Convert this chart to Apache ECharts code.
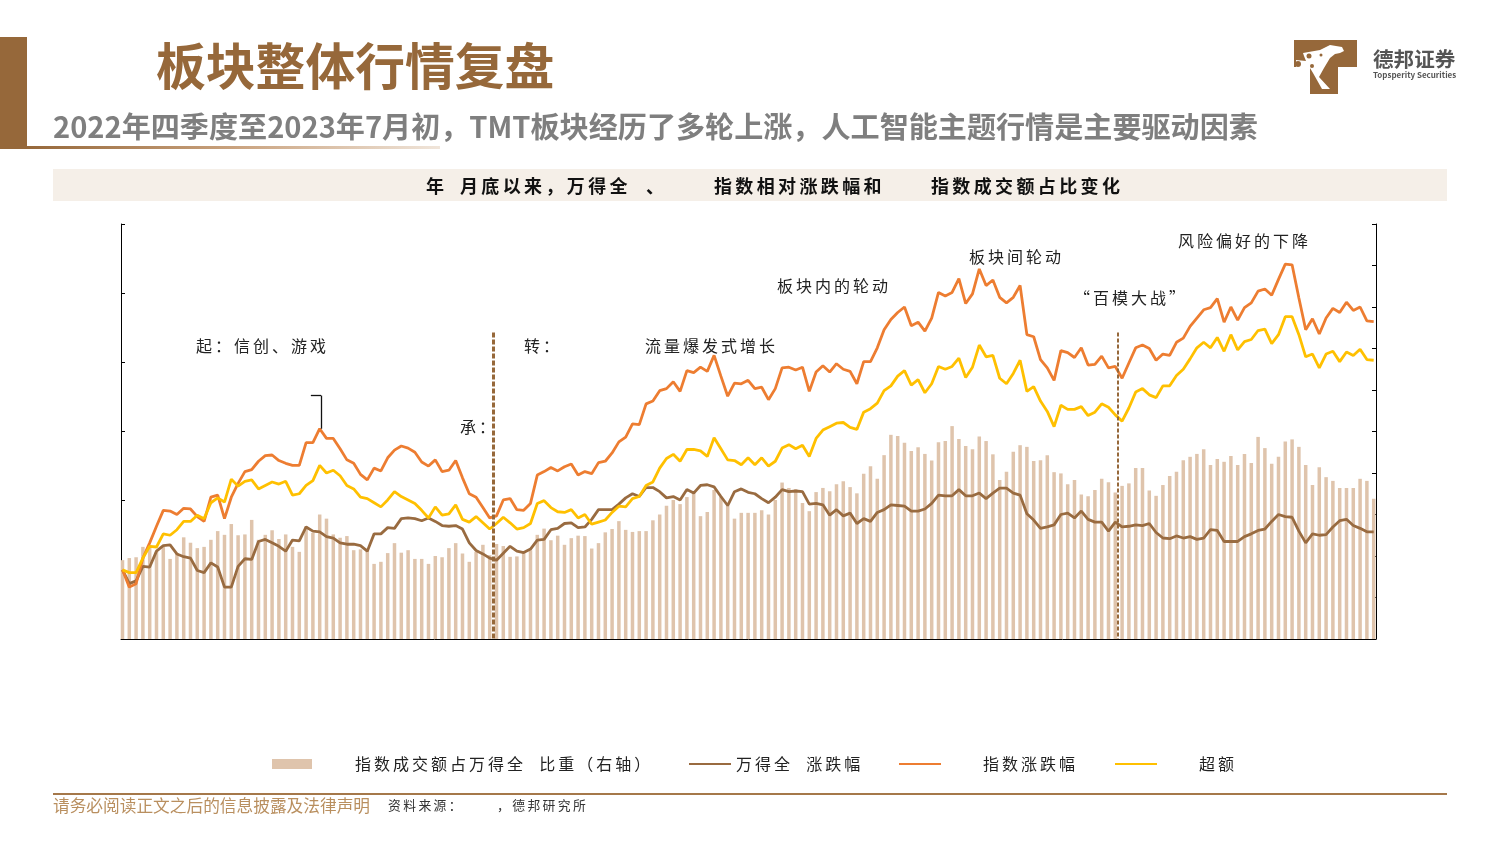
<!DOCTYPE html>
<html><head><meta charset="utf-8">
<style>html,body{margin:0;padding:0;background:#fff}#c{width:1500px;height:844px}</style>
<script src="https://cdn.jsdelivr.net/npm/echarts@6/dist/echarts.min.js"></script>
</head><body><div id="c"></div>
<script>
// Share of turnover, right axis (%)
const turnoverShare = [19.0,19.5,19.7,22.2,22.7,21.0,22.2,19.3,20.7,24.5,23.2,21.9,22.2,23.9,26.0,25.1,27.7,25.0,25.2,28.7,23.9,25.1,26.2,24.1,25.2,22.2,21.0,27.1,25.6,30.0,29.0,25.2,24.4,24.8,21.4,21.6,21.4,18.1,18.6,20.7,23.1,20.8,21.4,19.3,19.3,18.1,20.0,19.7,21.9,23.1,20.6,18.6,21.0,22.7,20.2,22.9,22.4,19.8,19.9,20.7,21.4,25.1,26.6,23.8,24.9,22.7,24.3,24.9,24.8,21.8,23.1,25.7,26.5,28.4,26.3,25.8,26.0,26.0,28.6,30.0,32.1,33.5,32.5,34.2,35.3,29.6,30.6,35.9,34.3,32.1,29.0,30.4,30.4,30.4,31.0,30.0,33.5,37.7,36.4,36.1,32.8,30.8,35.4,36.4,35.6,37.3,38.0,36.6,35.1,39.8,41.6,38.6,44.3,49.2,48.9,47.3,45.3,46.2,44.6,43.0,47.4,47.7,51.3,48.2,46.5,45.7,48.8,47.7,44.5,38.3,40.3,45.1,46.7,46.3,42.9,43.1,44.3,40.2,39.9,37.3,38.3,34.8,34.4,35.9,38.6,37.8,35.3,36.9,37.5,41.2,41.2,35.8,34.5,37.1,39.3,40.3,43.1,43.9,44.6,45.7,41.9,43.4,42.7,44.1,41.9,44.6,42.4,48.7,46.0,42.2,43.9,47.6,48.1,46.3,41.9,37.1,41.4,39.0,38.1,36.4,36.4,36.4,38.6,38.1,33.8];
// Market index change, left axis (%)
const marketChange = [0,-2.0,-1.6,0.5,0.4,2.7,3.5,3.6,2.3,1.9,1.7,-0.1,-0.4,1.0,0.4,-2.5,-2.5,0.5,1.6,1.5,4.1,4.4,3.9,3.4,2.7,4.3,4.2,6.2,5.6,5.5,4.8,4.6,3.9,3.7,3.7,3.5,2.7,5.2,5.2,6.1,6.0,7.4,7.5,7.4,7.1,7.5,7.0,6.4,6.3,6.4,5.9,3.9,2.8,2.3,1.7,1.4,2.4,3.4,2.7,2.5,3.0,4.3,4.4,5.8,6.0,6.7,6.8,6.1,6.2,7.3,8.7,8.7,8.7,9.5,10.4,11.0,10.6,11.9,11.9,11.3,10.4,10.6,10.1,11.6,11.1,12.2,12.3,12.0,10.6,9.3,11.3,11.7,11.2,11.0,10.3,9.7,10.5,11.6,11.3,11.4,11.3,9.5,9.6,9.4,7.9,8.7,7.8,8.2,6.7,7.4,7.0,8.3,8.7,9.4,9.3,9.2,8.5,8.5,8.8,9.6,10.8,10.7,10.7,11.6,10.7,10.7,11.1,10.3,11.1,11.8,11.8,11.1,10.8,8.1,7.2,6.0,6.2,6.5,8.0,8.2,7.5,8.5,7.3,6.9,6.9,5.6,6.9,6.2,6.3,6.5,6.4,6.7,5.4,4.6,4.5,4.9,4.6,4.8,4.4,4.6,5.8,5.7,4.1,4.1,4.1,4.8,5.2,5.7,5.9,7.0,8.0,7.7,7.6,5.6,3.9,5.2,5.0,5.1,6.2,7.1,7.3,6.4,6.0,5.5,5.5];
// Sector index change, left axis (%)
const sectorChange = [0,-2.5,-2.0,1.7,3.9,6.3,8.6,8.5,8.0,8.9,8.8,7.7,7.0,10.5,10.8,7.4,10.5,12.5,14.2,14.5,15.7,16.5,16.6,15.8,15.4,15.1,15.1,18.4,18.4,20.4,19.0,19.0,17.5,15.9,15.4,13.8,13.0,14.7,14.3,16.2,17.3,17.9,17.6,17.0,15.6,15.0,15.9,14.2,14.4,15.8,13.3,11.0,10.5,9.0,7.5,7.8,10.1,10.3,8.7,8.6,9.6,13.7,14.2,14.8,14.3,14.9,15.3,13.7,14.2,13.9,15.5,15.7,16.9,18.5,19.2,21.1,21.0,24.0,24.4,25.9,26.2,27.2,25.8,28.8,28.5,29.3,28.7,31.0,28.0,25.1,27.0,26.9,27.4,26.2,26.4,24.6,26.2,29.2,29.3,28.9,29.3,25.8,28.6,29.5,28.6,29.8,29.0,28.7,26.9,30.1,30.1,32.1,34.7,36.2,37.2,38.0,35.3,35.8,34.5,36.4,40.1,39.6,40.1,42.1,38.5,39.9,43.5,41.1,41.9,39.4,38.6,39.4,41.1,34.0,33.7,30.4,29.2,27.4,31.7,31.4,30.7,32.1,29.6,29.7,30.9,29.2,29.4,27.7,29.9,32.1,32.5,32.0,30.3,31.2,31.0,32.9,33.5,35.2,36.4,37.6,37.9,39.2,35.8,38.0,36.1,37.9,38.6,40.3,40.6,39.7,42.0,44.2,44.1,39.3,34.7,36.3,34.1,36.4,37.8,37.2,38.7,37.5,38.0,36.0,35.9];
// Excess return, left axis (%)
const excessReturn = [0,-0.4,-0.4,1.7,3.4,3.3,5.2,5.0,5.8,7.0,7.0,7.9,7.4,9.7,10.4,9.8,13.1,12.1,12.8,13.0,11.7,12.2,12.7,12.4,12.8,10.8,11.0,12.2,12.9,15.1,14.0,14.4,13.6,12.2,11.7,10.5,10.3,9.7,9.1,10.1,11.3,10.6,10.1,9.6,8.6,7.5,9.1,7.9,8.1,9.4,7.3,6.9,7.7,6.8,5.9,6.7,7.6,6.8,5.9,6.1,6.7,9.6,10.0,9.0,8.4,8.3,8.7,7.5,8.0,6.6,6.9,7.2,8.3,9.2,9.1,10.3,10.6,12.2,12.7,14.7,16.1,16.7,15.7,17.4,17.4,17.2,16.4,19.1,17.5,15.9,15.8,15.2,16.2,15.2,16.2,15.0,15.7,17.6,18.1,17.5,18.0,16.4,19.0,20.2,20.7,21.2,21.3,20.6,20.3,22.8,23.3,24.1,25.9,26.6,28.0,28.8,26.7,27.5,25.6,26.9,29.4,29.0,29.4,30.6,27.8,29.3,32.5,30.8,31.0,27.7,26.9,28.4,30.3,25.8,26.5,24.4,22.9,20.7,23.8,23.2,23.2,23.6,22.3,22.8,24.0,23.5,22.4,21.5,23.4,25.7,26.2,25.3,24.9,26.6,26.6,28.1,29.0,30.5,32.1,32.9,32.1,33.6,31.6,34.0,31.8,33.0,33.3,34.6,34.8,32.7,34.0,36.6,36.6,34.0,30.8,31.2,29.2,31.2,31.6,30.1,31.5,31.0,31.9,30.4,30.3];

const seriesNames = ['指数成交额占万得全  比重（右轴）','万得全  涨跌幅','指数涨跌幅','超额'];
const titleText = '板块整体行情复盘';
const subtitleText = '2022年四季度至2023年7月初，TMT板块经历了多轮上涨，人工智能主题行情是主要驱动因素';
const annotations = [
  ['起：信创、游戏',196,346],['承：',460,427],['转：',524,346],['流量爆发式增长',645,346],
  ['板块内的轮动',777,286],['板块间轮动',969,257],['“百模大战”',1074,298],['风险偏好的下降',1178,241]
];
const headerParts = [['年',426],['月底以来，万得全',460],['、',646],['指数相对涨跌幅和',714],['指数成交额占比变化',931]];

const FONT = '"Noto Sans CJK SC","Noto Sans",sans-serif';
const BROWN = '#96683A';
const sp = s => Array.from(s).join('\u200a\u200a\u200a');
const idx = a => a.map((v,i)=>[i,v]);

const txt = (text,x,y,size,fill,weight,extra) => ({type:'text',x,y,silent:true,z:20,style:Object.assign({
  text,fill,font:`${weight||'normal'} ${size}px ${FONT}`,verticalAlign:'middle',align:'left'},extra||{})});

const graphic = [
  {type:'rect',shape:{x:0,y:37,width:27,height:112},style:{fill:BROWN},silent:true},
  {type:'rect',shape:{x:27,y:146,width:413,height:3},silent:true,style:{fill:{type:'linear',x:0,y:0,x2:1,y2:0,
    colorStops:[{offset:0,color:BROWN},{offset:.5,color:'#C9A27E'},{offset:1,color:'#F0E5DA'}]}}},
  txt(titleText,156,66,49.8,BROWN,'bold'),
  txt(subtitleText,53,127,29.1,'#7F7F7F','bold'),
  {type:'rect',shape:{x:53,y:169,width:1394,height:32},style:{fill:'#F5EFE8'},silent:true},
  ...headerParts.map(([t,x])=>txt(sp(t),x,186,18,'#111','bold')),
  ...annotations.map(([t,x,y])=>txt(sp(t),x,y,16,'#222')),
  {type:'polygon',shape:{points:[[1294,40],[1357,40],[1357,67],[1338,67],[1338,94],[1310,94],[1310,67],[1294,67]]},style:{fill:BROWN},silent:true},
  {type:'polygon',shape:{points:[[1303,53],[1320,50],[1330,45],[1342,47],[1344,51],[1340,53],[1335,54],[1330,58],[1324,68],[1319,77],[1330,89],[1322,89],[1313,73],[1310,68],[1296,68],[1296,60],[1306,61],[1304,56]]},style:{fill:'#fff'},silent:true},
  {type:'circle',shape:{cx:1309,cy:56,r:2.5},style:{fill:BROWN},silent:true},
  {type:'circle',shape:{cx:1321,cy:55,r:1.5},style:{fill:BROWN},silent:true},
  {type:'circle',shape:{cx:1312,cy:66,r:2},style:{fill:BROWN},silent:true},
  {type:'circle',shape:{cx:1298,cy:64,r:3},style:{fill:BROWN},silent:true},
  txt('德邦证券',1373,59,20.6,'#555','bold'),
  txt('Topsperity Securities',1373,74.5,8,'#555','bold'),
  {type:'rect',shape:{x:53,y:793,width:1394,height:2},style:{fill:'#A5784A'},silent:true},
  txt('请务必阅读正文之后的信息披露及法律声明',53,806,16.7,'#B98F5F'),
  txt(sp('资料来源：'),388,805,12.8,'#333'),
  txt(sp('，德邦研究所'),497,805,12.8,'#333')
];

const legendAt = (name,left,pad,iconW,iconH,icon) => ({
  data:[icon?{name,icon}:name],left,top:756,padding:0,itemWidth:iconW,itemHeight:iconH,selectedMode:false,
  formatter:n=>sp(n),
  textStyle:{fontFamily:FONT,fontSize:16,color:'#222',padding:[0,0,0,pad]}
});

const option = {
  animation:false,
  graphic,
  legend:[
    legendAt(seriesNames[0],272,38,40,10,'rect'),
    legendAt(seriesNames[1],688,0,42,2),
    legendAt(seriesNames[2],898,37,42,2),
    legendAt(seriesNames[3],1114,37,42,2)
  ],
  grid:{left:121,right:124,top:224,height:415,containLabel:false},
  xAxis:{type:'value',min:-0.22,max:184.34,axisLine:{show:true,onZero:false,lineStyle:{color:'#000',width:1}},
    axisTick:{show:false},axisLabel:{show:false},splitLine:{show:false}},
  yAxis:[
    {type:'value',min:-10,max:50,interval:10,position:'left',axisLine:{show:true,onZero:false,lineStyle:{color:'#000',width:1}},
      axisTick:{show:true,inside:true,length:4,lineStyle:{color:'#000'}},axisLabel:{show:false},splitLine:{show:false}},
    {type:'value',min:0,max:100,interval:10,position:'right',axisLine:{show:true,onZero:false,lineStyle:{color:'#000',width:1}},
      axisTick:{show:true,inside:true,length:4,lineStyle:{color:'#000'}},axisLabel:{show:false},splitLine:{show:false}}
  ],
  series:[
    {name:seriesNames[0],type:'bar',yAxisIndex:1,barWidth:3.5,itemStyle:{color:'#DFC4AC'},data:idx(turnoverShare),z:1},
    {name:seriesNames[1],type:'line',yAxisIndex:0,showSymbol:false,symbol:'none',lineStyle:{color:'#996B40',width:2.8},itemStyle:{color:'#996B40'},data:idx(marketChange),z:3},
    {name:seriesNames[2],type:'line',yAxisIndex:0,showSymbol:false,symbol:'none',lineStyle:{color:'#ED7D31',width:2.8},itemStyle:{color:'#ED7D31'},data:idx(sectorChange),z:4,
      markLine:{silent:true,symbol:'none',label:{show:false},animation:false,lineStyle:{color:'#111',type:'solid',width:1.3},
        data:[[{coord:[29.2,20.4]},{coord:[29.2,25.2]}],[{coord:[29.2,25.2]},{coord:[27.7,25.2]}]]}},
    {name:seriesNames[3],type:'line',yAxisIndex:0,showSymbol:false,symbol:'none',lineStyle:{color:'#FFC000',width:2.8},itemStyle:{color:'#FFC000'},data:idx(excessReturn),z:5,
      markLine:{silent:true,symbol:'none',label:{show:false},animation:false,z:9,
        data:[
          [{coord:[54.5,34.3],lineStyle:{color:BROWN,type:[5,2],width:3}},{coord:[54.5,-10]}],
          [{coord:[146.4,34.3],lineStyle:{color:BROWN,type:[4,2],width:2}},{coord:[146.4,-10]}]
        ]}}
  ]
};
const chart = echarts.init(document.getElementById('c'),null,{renderer:'canvas',width:1500,height:844});
chart.setOption(option);
</script></body></html>
